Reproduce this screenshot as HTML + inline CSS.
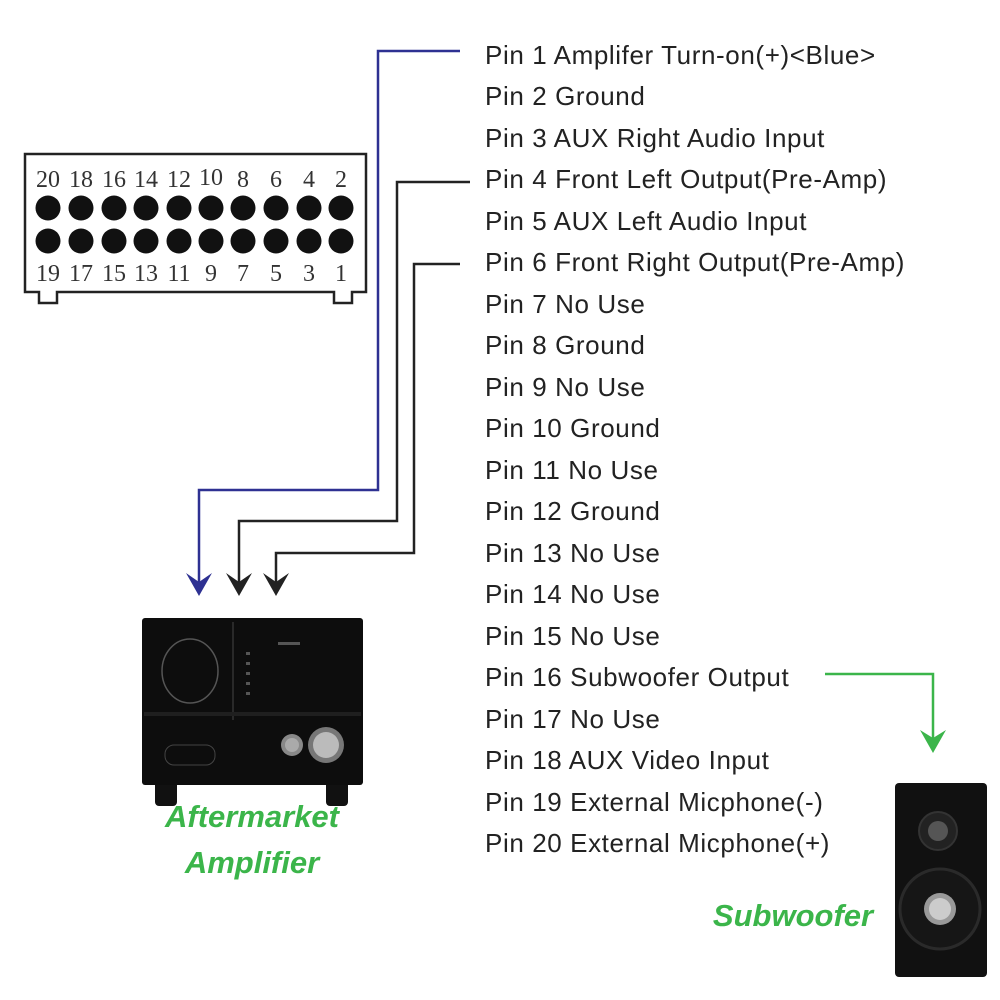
<!DOCTYPE html>
<html><head><meta charset="utf-8"><style>
html,body{margin:0;padding:0;background:#fff;}
svg{display:block}
</style></head><body>
<svg width="1000" height="1000" viewBox="0 0 1000 1000" xmlns="http://www.w3.org/2000/svg">
<!-- connector -->
<path d="M25,154 H366 V292 H352 V303 H334 V292 H57 V303 H39 V292 H25 Z" fill="#fff" stroke="#222" stroke-width="2.5"/>
<g font-family="Liberation Serif, serif" font-size="24" fill="#333" text-anchor="middle">
<text x="48" y="187">20</text><text x="81" y="187">18</text><text x="114" y="187">16</text><text x="146" y="187">14</text><text x="179" y="187">12</text><text x="211" y="185">10</text><text x="243" y="187">8</text><text x="276" y="187">6</text><text x="309" y="187">4</text><text x="341" y="187">2</text>
<text x="48" y="281">19</text><text x="81" y="281">17</text><text x="114" y="281">15</text><text x="146" y="281">13</text><text x="179" y="281">11</text><text x="211" y="281">9</text><text x="243" y="281">7</text><text x="276" y="281">5</text><text x="309" y="281">3</text><text x="341" y="281">1</text>
</g>
<g fill="#111">
<circle cx="48" cy="208" r="12.5"/><circle cx="81" cy="208" r="12.5"/><circle cx="114" cy="208" r="12.5"/><circle cx="146" cy="208" r="12.5"/><circle cx="179" cy="208" r="12.5"/><circle cx="211" cy="208" r="12.5"/><circle cx="243" cy="208" r="12.5"/><circle cx="276" cy="208" r="12.5"/><circle cx="309" cy="208" r="12.5"/><circle cx="341" cy="208" r="12.5"/>
<circle cx="48" cy="241" r="12.5"/><circle cx="81" cy="241" r="12.5"/><circle cx="114" cy="241" r="12.5"/><circle cx="146" cy="241" r="12.5"/><circle cx="179" cy="241" r="12.5"/><circle cx="211" cy="241" r="12.5"/><circle cx="243" cy="241" r="12.5"/><circle cx="276" cy="241" r="12.5"/><circle cx="309" cy="241" r="12.5"/><circle cx="341" cy="241" r="12.5"/>
</g>
<!-- wires -->
<polyline points="460,51 378,51 378,490 199,490 199,585" fill="none" stroke="#2e3192" stroke-width="2.5"/>
<path d="M186,573 L199,596 L212,573 L199,582 Z" fill="#2e3192"/>
<polyline points="470,182 397,182 397,521 239,521 239,585" fill="none" stroke="#222" stroke-width="2.5"/>
<path d="M226,573 L239,596 L252,573 L239,582 Z" fill="#222"/>
<polyline points="460,264 414,264 414,553 276,553 276,585" fill="none" stroke="#222" stroke-width="2.5"/>
<path d="M263,573 L276,596 L289,573 L276,582 Z" fill="#222"/>
<polyline points="825,674 933,674 933,740" fill="none" stroke="#3bb54a" stroke-width="2.5"/>
<path d="M920,730 L933,753 L946,730 L933,738 Z" fill="#3bb54a"/>
<!-- pin text -->
<g font-family="Liberation Sans, sans-serif" font-size="26" letter-spacing="0.6" fill="#222">
<text x="485" y="64">Pin 1 Amplifer Turn-on(+)&lt;Blue&gt;</text>
<text x="485" y="105">Pin 2 Ground</text>
<text x="485" y="147">Pin 3 AUX Right Audio Input</text>
<text x="485" y="188">Pin 4 Front Left Output(Pre-Amp)</text>
<text x="485" y="230">Pin 5 AUX Left Audio Input</text>
<text x="485" y="271">Pin 6 Front Right Output(Pre-Amp)</text>
<text x="485" y="313">Pin 7 No Use</text>
<text x="485" y="354">Pin 8 Ground</text>
<text x="485" y="396">Pin 9 No Use</text>
<text x="485" y="437">Pin 10 Ground</text>
<text x="485" y="479">Pin 11 No Use</text>
<text x="485" y="520">Pin 12 Ground</text>
<text x="485" y="562">Pin 13 No Use</text>
<text x="485" y="603">Pin 14 No Use</text>
<text x="485" y="645">Pin 15 No Use</text>
<text x="485" y="686">Pin 16 Subwoofer Output</text>
<text x="485" y="728">Pin 17 No Use</text>
<text x="485" y="769">Pin 18 AUX Video Input</text>
<text x="485" y="811">Pin 19 External Micphone(-)</text>
<text x="485" y="852">Pin 20 External Micphone(+)</text>
</g>
<!-- amplifier -->
<rect x="155" y="770" width="22" height="36" rx="4" fill="#111"/>
<rect x="326" y="770" width="22" height="36" rx="4" fill="#111"/>
<rect x="142" y="618" width="221" height="167" rx="3" fill="#0d0d0d"/>
<line x1="233" y1="622" x2="233" y2="720" stroke="#333" stroke-width="1.5"/>
<rect x="144" y="712" width="217" height="4" fill="#1f1f1f"/>
<ellipse cx="190" cy="671" rx="28" ry="32" fill="none" stroke="#555" stroke-width="1.5"/>
<rect x="165" y="745" width="50" height="20" rx="9" fill="none" stroke="#444"/>
<circle cx="292" cy="745" r="11" fill="#888"/>
<circle cx="326" cy="745" r="18" fill="#777"/>
<circle cx="326" cy="745" r="13" fill="#bbb"/>
<circle cx="292" cy="745" r="7" fill="#aaa"/>
<g fill="#555"><rect x="246" y="652" width="4" height="3"/><rect x="246" y="662" width="4" height="3"/><rect x="246" y="672" width="4" height="3"/><rect x="246" y="682" width="4" height="3"/><rect x="246" y="692" width="4" height="3"/><rect x="278" y="642" width="22" height="3"/></g>
<!-- subwoofer -->
<rect x="895" y="783" width="92" height="194" rx="4" fill="#111"/>
<circle cx="938" cy="831" r="19" fill="#222" stroke="#333" stroke-width="2"/>
<circle cx="938" cy="831" r="10" fill="#555"/>
<circle cx="940" cy="909" r="40" fill="#161616" stroke="#2a2a2a" stroke-width="3"/>
<circle cx="940" cy="909" r="16" fill="#999"/>
<circle cx="940" cy="909" r="11" fill="#ccc"/>
<!-- labels -->
<g font-family="Liberation Sans, sans-serif" font-size="31" font-weight="bold" font-style="italic" fill="#3bb54a" text-anchor="middle">
<text x="252" y="827">Aftermarket</text>
<text x="252" y="873">Amplifier</text>
<text x="793" y="926">Subwoofer</text>
</g>
</svg>
</body></html>
